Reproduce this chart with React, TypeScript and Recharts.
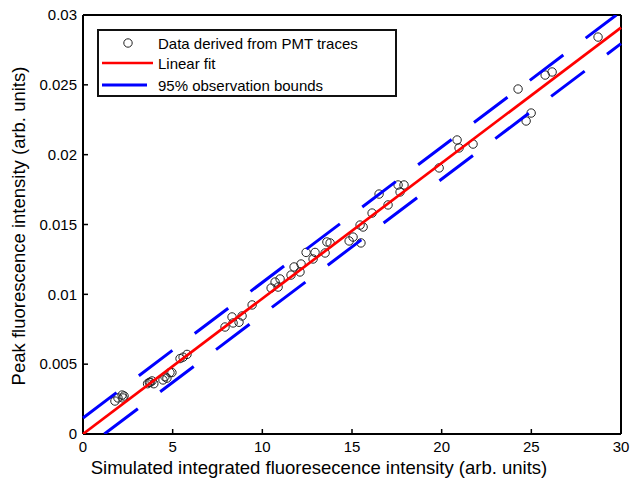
import React from 'react';
import { ScatterChart, Scatter, XAxis, YAxis, Legend, Label } from 'recharts';

// measured points (simulated integrated intensity vs peak PMT intensity)
const pointX = [
  1.78, 1.95, 2.18, 2.29, 2.23, 3.6, 3.75, 3.85, 3.95, 3.7, 4.46, 4.68, 4.85, 4.96, 4.57,
  5.41, 5.58, 5.8, 7.92, 8.31, 8.37, 8.7, 8.87, 9.43, 10.49, 10.71, 10.88, 10.99, 11.6,
  11.77, 12.1, 12.16, 12.44, 12.94, 12.83, 13.5, 13.6, 13.78, 14.84, 15.06, 15.45, 15.62,
  15.5, 16.12, 16.51, 17.01, 17.57, 17.68, 17.9, 19.86, 20.86, 20.97, 21.75, 24.26, 24.99,
  24.71, 25.77, 26.16, 28.72,
];
const pointY = [
  0.00236, 0.00258, 0.00279, 0.00272, 0.00258, 0.0036, 0.0037, 0.0038, 0.0036, 0.0037,
  0.00387, 0.004, 0.0044, 0.0044, 0.0041, 0.0054, 0.0055, 0.0057, 0.00766, 0.00838, 0.00795,
  0.008, 0.00845, 0.00924, 0.01045, 0.01088, 0.01052, 0.0111, 0.01138, 0.01196, 0.0116,
  0.01217, 0.013, 0.013, 0.01253, 0.01296, 0.01375, 0.01368, 0.01382, 0.0141, 0.01496,
  0.01482, 0.01368, 0.01582, 0.01718, 0.0164, 0.01783, 0.01733, 0.01783, 0.01905, 0.02105,
  0.02048, 0.02076, 0.0247, 0.02298, 0.02241, 0.0257, 0.02592, 0.02842,
];

// fit line and 95% bounds (end points)
const fitX = [0, 30];
const fitY = [0, 0.0291];
const upperX = [0, 29.74];
const upperY = [0.00115, 0.03];
const lowerX = [1.19, 30];
const lowerY = [0, 0.02795];

const xTicks = [0, 5, 10, 15, 20, 25, 30];
const yTicks = [0, 0.005, 0.01, 0.015, 0.02, 0.025, 0.03];

const toPts = (xs: number[], ys: number[]) => xs.map((x, i) => ({ x, y: ys[i] }));
const pointData = toPts(pointX, pointY);
const fitData = toPts(fitX, fitY);
const upperData = toPts(upperX, upperY);
const lowerData = toPts(lowerX, lowerY);

const FONT = '"Liberation Sans", Arial, sans-serif';

const Circle = (p: any) => (
  <circle cx={p.cx} cy={p.cy} r={4.2} fill="none" stroke="#222" strokeWidth={1} />
);
const NoShape = () => <g />;

const LegendBox = () => (
  <svg width={300} height={68} style={{ display: 'block' }}>
    <rect x={1} y={1} width={298} height={66} fill="#fff" stroke="#111" strokeWidth={2} />
    <circle cx={31} cy={14} r={4.2} fill="none" stroke="#222" strokeWidth={1} />
    <line x1={5} x2={56} y1={34} y2={34} stroke="#ff0000" strokeWidth={2.7} />
    <line x1={5} x2={50} y1={56} y2={56} stroke="#0000ff" strokeWidth={3} />
    <g fontFamily={FONT} fontSize={15} fill="#000">
      <text x={61} y={19.5}>Data derived from PMT traces</text>
      <text x={61} y={40}>Linear fit</text>
      <text x={61} y={61.5}>95% observation bounds</text>
    </g>
  </svg>
);

const XTitle = () => (
  <text x={319} y={474} textAnchor="middle" fontSize={18.5} fill="#000">
    Simulated integrated fluoresecence intensity (arb. units)
  </text>
);
const YTitle = () => (
  <text
    x={18}
    y={226}
    textAnchor="middle"
    dominantBaseline="central"
    fontSize={18.5}
    fill="#000"
    transform="rotate(-90, 18, 226)"
  >
    Peak fluorescence intensity (arb. units)
  </text>
);

const axisLine = { stroke: '#000', strokeWidth: 2 };
const tickLine = { stroke: '#000', strokeWidth: 1.5 };

export default function App() {
  return (
    <div style={{ position: 'absolute', left: 0, top: 0, fontFamily: FONT, background: '#fff' }}>
      <ScatterChart width={630} height={488} margin={{ top: 14, right: 8, bottom: 0, left: 23 }}>
        <XAxis
          dataKey="x"
          type="number"
          domain={[0, 30]}
          ticks={xTicks}
          interval={0}
          height={54}
          tickSize={-5}
          tickMargin={12}
          axisLine={axisLine}
          tickLine={tickLine}
          tick={{ fill: '#000', fontSize: 15 }}
        >
          <Label content={XTitle} />
        </XAxis>
        <XAxis
          xAxisId="top"
          orientation="top"
          type="number"
          domain={[0, 30]}
          ticks={xTicks}
          interval={0}
          height={1}
          tickSize={-5}
          axisLine={axisLine}
          tickLine={tickLine}
          tickFormatter={() => ''}
        />
        <YAxis
          dataKey="y"
          type="number"
          domain={[0, 0.03]}
          allowDataOverflow
          ticks={yTicks}
          interval={0}
          width={60}
          tickSize={-5}
          tickMargin={11}
          axisLine={axisLine}
          tickLine={tickLine}
          tick={{ fill: '#000', fontSize: 15 }}
        >
          <Label content={YTitle} />
        </YAxis>
        <YAxis
          yAxisId="right"
          orientation="right"
          type="number"
          domain={[0, 0.03]}
          ticks={yTicks}
          interval={0}
          width={1}
          tickSize={-5}
          axisLine={axisLine}
          tickLine={tickLine}
          tickFormatter={() => ''}
        />
        <Legend
          layout="vertical"
          align="center"
          verticalAlign="middle"
          content={LegendBox}
          wrapperStyle={{ left: 97, top: 29, width: 300, height: 68 }}
        />
        <Scatter data={pointData} shape={Circle} isAnimationActive={false} />
        <Scatter
          data={fitData}
          shape={NoShape}
          line={{ stroke: '#ff0000', strokeWidth: 2.7 }}
          isAnimationActive={false}
        />
        <Scatter
          data={upperData}
          shape={NoShape}
          line={{ stroke: '#0000ff', strokeWidth: 3, strokeDasharray: '42 28' }}
          isAnimationActive={false}
        />
        <Scatter
          data={lowerData}
          shape={NoShape}
          line={{ stroke: '#0000ff', strokeWidth: 3, strokeDasharray: '42 28' }}
          isAnimationActive={false}
        />
      </ScatterChart>
    </div>
  );
}
